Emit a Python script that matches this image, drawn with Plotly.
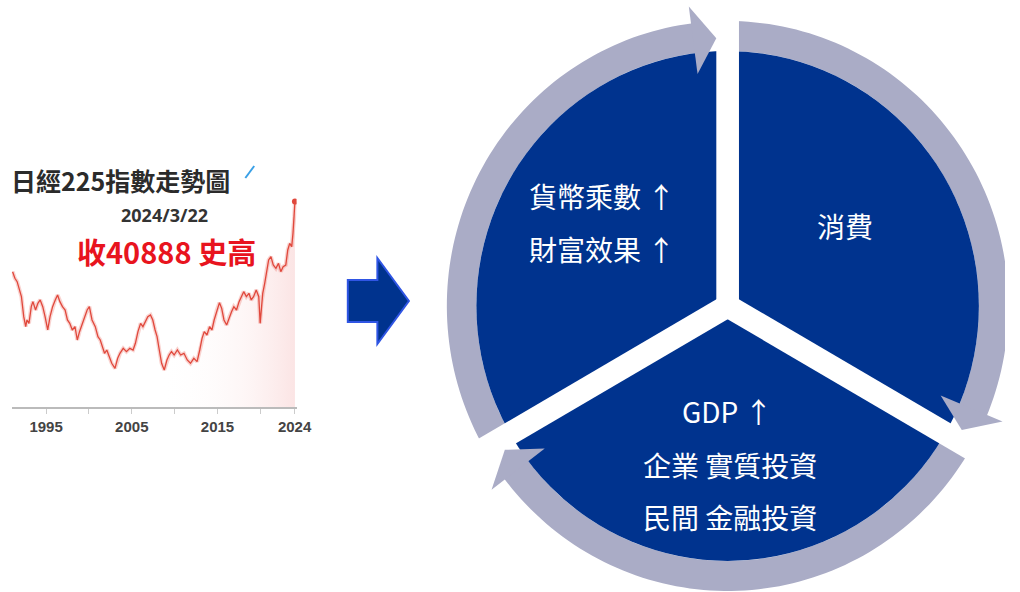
import math
import plotly.graph_objects as go

# ---------------- Nikkei 225 thumbnail ----------------
nikkei_years = [1991.09, 1991.36, 1991.62, 1991.85, 1992.12, 1992.39, 1992.62, 1992.77, 1993.00, 1993.27,
                1993.46, 1993.77, 1994.04, 1994.31, 1994.61, 1994.88, 1995.19, 1995.46, 1995.76, 1996.07,
                1996.34, 1996.61, 1996.91, 1997.22, 1997.49, 1997.76, 1998.06, 1998.37, 1998.64, 1998.90,
                1999.21, 1999.52, 1999.79, 2000.05, 2000.36, 2000.74, 2001.05, 2001.32, 2001.59, 2001.82,
                2002.08, 2002.35, 2002.66, 2003.04, 2003.35, 2003.62, 2004.00, 2004.38, 2004.77, 2005.15,
                2005.42, 2005.72, 2006.03, 2006.30, 2006.57, 2006.87, 2007.18, 2007.45, 2007.72, 2007.95,
                2008.21, 2008.48, 2008.79, 2009.10, 2009.36, 2009.63, 2009.94, 2010.32, 2010.70, 2011.09,
                2011.47, 2011.85, 2012.24, 2012.62, 2012.93, 2013.20, 2013.46, 2013.77, 2014.08, 2014.35,
                2014.61, 2014.92, 2015.23, 2015.49, 2015.76, 2016.07, 2016.38, 2016.64, 2016.91, 2017.22,
                2017.52, 2017.79, 2018.06, 2018.37, 2018.67, 2018.94, 2019.21, 2019.52, 2019.82, 2019.98,
                2020.13, 2020.28, 2020.51, 2020.74, 2020.97, 2021.24, 2021.51, 2021.82, 2022.12, 2022.39,
                2022.66, 2022.97, 2023.20, 2023.43, 2023.66, 2023.81, 2023.96, 2024.04]
nikkei_values = [26930, 25606, 24943, 23284, 21958, 17978, 15988, 17315, 16651, 19968,
                 20963, 19305, 20631, 21295, 19968, 17978, 15325, 17978, 19968, 21295,
                 22289, 20963, 19968, 19305, 17315, 16651, 15325, 15988, 13335, 14993,
                 16651, 17978, 19305, 19968, 17315, 15988, 13998, 13335, 12008, 10682,
                 11345, 10018, 8692, 7697, 9687, 10682, 11676, 11013, 11676, 11345,
                 12671, 14993, 16651, 15988, 16983, 17978, 18309, 17315, 15325, 13998,
                 11345, 8692, 7365, 9355, 10350, 11013, 10350, 11345, 10350, 10682,
                 9355, 8692, 9687, 9023, 11345, 13666, 14993, 14330, 15988, 15325,
                 17315, 19305, 20764, 19637, 17315, 16320, 17978, 18973, 19968, 19305,
                 20963, 21958, 22953, 21958, 22621, 21295, 21958, 23284, 21958, 16651,
                 20631, 22621, 24611, 27265, 29254, 29918, 28260, 27597, 28592, 26934,
                 27929, 28260, 31244, 32570, 31907, 34560, 37877, 40888]
nikkei_tickvals = [1995, 2005, 2015, 2024]
nikkei_ticktext = ["1995", "2005", "2015", "2024"]
thumb_title = "日經225指數走勢圖"
thumb_date = "2024/3/22"
thumb_note = "收40888 史高"

# ---------------- cycle diagram texts ----------------
seg_lines = ["貨幣乘數 ↑", "財富效果 ↑", "消費", "GDP ↑", "企業 實質投資", "民間 金融投資"]
seg_pos = [(611, 196), (611, 249), (858, 226), (738, 411), (741, 465), (741, 517)]

# ---------------- styling / geometry parameters ----------------
BLUE = "#00338E"
RING = "#AAACC6"
CX, CY = 738.5, 306.0
R_PIE = 255
R_IN, R_OUT = 255, 285
GAP_W = 23
GAP_ANGLES = [90, -30, 210]
HEAD_BASE = 7.5      # degrees past gap where arrowhead base sits
HEAD_HALF = 34       # half width of arrowhead
R_MID = 268


def pt(r, a_deg):
    a = math.radians(a_deg)
    return CX + r * math.cos(a), CY - r * math.sin(a)


def poly_path(points):
    s = "M %.2f,%.2f " % points[0]
    s += " ".join("L %.2f,%.2f" % p for p in points[1:])
    return s + " Z"


shapes = []
# ring arcs
for i, g in enumerate(GAP_ANGLES):
    nxt = GAP_ANGLES[(i + 1) % 3] + HEAD_BASE - 0.4
    while nxt > g:
        nxt -= 360
    n = 80
    angs = [g + (nxt - g) * k / n for k in range(n + 1)]
    pts = [pt(R_OUT, a) for a in angs] + [pt(R_IN, a) for a in reversed(angs)]
    shapes.append(dict(type="path", path=poly_path(pts), fillcolor=RING, line=dict(width=0),
                       xref="x", yref="y"))
# pie disk
shapes.append(dict(type="circle", x0=CX - R_PIE, x1=CX + R_PIE, y0=CY - R_PIE, y1=CY + R_PIE,
                   fillcolor=BLUE, line=dict(width=0), xref="x", yref="y"))
# white separating bands
for g in GAP_ANGLES:
    a = math.radians(g)
    dx, dy = math.cos(a), -math.sin(a)
    nx, ny = -dy, dx
    h = GAP_W / 2
    back, L = 6, 300
    pts = [(CX - back * dx + h * nx, CY - back * dy + h * ny),
           (CX + L * dx + h * nx, CY + L * dy + h * ny),
           (CX + L * dx - h * nx, CY + L * dy - h * ny),
           (CX - back * dx - h * nx, CY - back * dy - h * ny)]
    shapes.append(dict(type="path", path=poly_path(pts), fillcolor="white", line=dict(width=0),
                       xref="x", yref="y"))
# arrowheads
for g in GAP_ANGLES:
    tip_a = g + math.degrees(math.asin((GAP_W / 2) / R_MID))
    b = g + HEAD_BASE
    pts = [pt(R_MID + HEAD_HALF, b), pt(R_MID, tip_a), pt(R_MID - HEAD_HALF, b)]
    shapes.append(dict(type="path", path=poly_path(pts), fillcolor=RING, line=dict(width=0),
                       xref="x", yref="y"))
# block arrow between thumbnail and diagram
AX0, AX1, ATIP, AY, ABODY, AHEAD = 353, 383, 415, 301, 21, 43
arrow_pts = [(AX0, AY - ABODY), (AX1, AY - ABODY), (AX1, AY - AHEAD), (ATIP, AY),
             (AX1, AY + AHEAD), (AX1, AY + ABODY), (AX0, AY + ABODY)]
shapes.append(dict(type="path", path=poly_path(arrow_pts), fillcolor=BLUE,
                   line=dict(color="#2F55E4", width=2), xref="x", yref="y"))
# small blue stroke near thumbnail title
shapes.append(dict(type="line", x0=249, y0=178, x1=258, y1=166, line=dict(color="#3AA0E6", width=2),
                   xref="x", yref="y"))

fig = go.Figure()

# thumbnail traces
fig.add_trace(go.Scatter(x=nikkei_years, y=nikkei_values, mode="lines", fill="tozeroy",
                         line=dict(width=0),
                         fillgradient=dict(type="horizontal", start=2008, stop=2024.2,
                                           colorscale=[[0, "rgba(255,255,255,0)"],
                                                       [0.6, "rgba(250,220,220,0.25)"],
                                                       [1, "rgba(246,190,190,0.45)"]]),
                         xaxis="x2", yaxis="y2", hoverinfo="skip", showlegend=False))
fig.add_trace(go.Scatter(x=nikkei_years, y=nikkei_values, mode="lines",
                         line=dict(color="rgba(236,110,100,0.30)", width=4),
                         xaxis="x2", yaxis="y2", hoverinfo="skip", showlegend=False))
fig.add_trace(go.Scatter(x=nikkei_years, y=nikkei_values, mode="lines",
                         line=dict(color="#E0483C", width=1.3),
                         xaxis="x2", yaxis="y2", showlegend=False))
fig.add_trace(go.Scatter(x=[nikkei_years[-1]], y=[nikkei_values[-1]], mode="markers",
                         marker=dict(color="#E0483C", size=6),
                         xaxis="x2", yaxis="y2", showlegend=False))

annotations = []
CJK = "Noto Sans CJK TC"
for txt, (x, y) in zip(seg_lines, seg_pos):
    annotations.append(dict(text=txt, x=x, y=y, xref="x", yref="y", showarrow=False,
                            xanchor="center", yanchor="middle",
                            font=dict(family=CJK, size=28, color="white")))
annotations.append(dict(text="<b>%s</b>" % thumb_title, x=122, y=180, xref="x", yref="y",
                        showarrow=False, xanchor="center", yanchor="middle",
                        font=dict(family=CJK, size=25, color="#2B2B2B")))
annotations.append(dict(text="<b>%s</b>" % thumb_date, x=167, y=215, xref="x", yref="y",
                        showarrow=False, xanchor="center", yanchor="middle", borderpad=0,
                        font=dict(family="Noto Sans", size=18, color="#333333")))
annotations.append(dict(text="<b>%s</b>" % thumb_note, x=169, y=251, xref="x", yref="y",
                        showarrow=False, xanchor="center", yanchor="middle", borderpad=0,
                        font=dict(family=CJK, size=29, color="#E8141E")))

fig.update_layout(
    width=1020, height=592, margin=dict(l=0, r=0, t=0, b=0),
    paper_bgcolor="white", plot_bgcolor="rgba(0,0,0,0)",
    xaxis=dict(range=[0, 1020], domain=[0, 1], visible=False, fixedrange=True),
    yaxis=dict(range=[592, 0], domain=[0, 1], visible=False, fixedrange=True),
    xaxis2=dict(domain=[12 / 1020, 301 / 1020], range=[1991.0, 2024.23], anchor="y2",
                showgrid=False, zeroline=False, showline=True, linecolor="#BBBBBB", linewidth=1.5,
                tickvals=nikkei_tickvals, ticktext=["<b>%s</b>" % t for t in nikkei_ticktext],
                ticks="outside", ticklen=5, tickcolor="#CCCCCC",
                minor=dict(tick0=1995, dtick=5, ticks="outside", ticklen=5, tickcolor="#CCCCCC"),
                tickfont=dict(family="Liberation Sans", size=15, color="#444444"),
                fixedrange=True),
    yaxis2=dict(domain=[1 - 407 / 592, 1 - 195 / 592], range=[0, 42188], anchor="x2",
                visible=False, showgrid=False, fixedrange=True),
    shapes=shapes, annotations=annotations,
)

fig.write_html("out.html")
